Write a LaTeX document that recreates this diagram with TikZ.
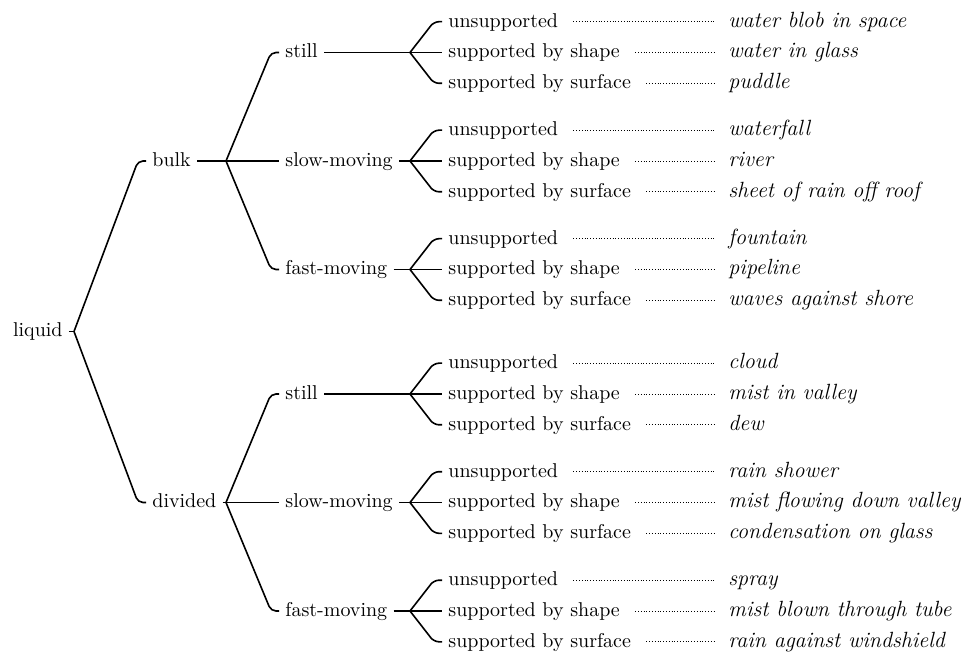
\documentclass[tikz,border=0pt]{standalone}
\begin{document}
\begin{tikzpicture}[x=0.5pt,y=-0.5pt,
	lbl/.style={anchor=west,inner sep=3pt,text height=1.5ex,text depth=.25ex},
	branch/.style={line width=0.8pt,rounded corners=2.5pt},
	leader/.style={densely dotted,line width=0.4pt,shorten <=4.5pt,shorten >=4pt}]
	\useasboundingbox (0,0) rectangle (970,652);
	\node (liquid)[lbl] at (6.7,331.5) {liquid};
	\coordinate (lf) at (74,331.5);
	\draw[branch] (liquid.east) -- (lf);
	\foreach \kind [count=\i from 0] in {bulk,divided}{
		\pgfmathsetmacro\ya{161+341.5*\i}
		\node (k\i)[lbl] at (146,\ya) {\kind};
		\coordinate (kf\i) at (226,\ya);
		\draw[branch] (lf) -- ([xshift=-4pt]k\i.west) -- (k\i.west);
		\draw[branch] (k\i.east) -- (kf\i);
		\foreach \speed [count=\j from 0] in {still,slow-moving,fast-moving}{
			\pgfmathsetmacro\yb{\ya+108.5*(\j-1)}
			\node (s\i\j)[lbl] at (279,\yb) {\speed};
			\coordinate (sf\i\j) at (410,\yb);
			\draw[branch] (kf\i) -- ([xshift=-4pt]s\i\j.west) -- (s\i\j.west);
			\draw[branch] (s\i\j.east) -- (sf\i\j);
			\foreach \support [count=\k from 0] in {unsupported,supported by shape,supported by surface}{
				\pgfmathsetmacro\yc{\yb+30.8*(\k-1)}
				\pgfmathtruncatemacro\n{9*\i+3*\j+\k}
				\node (leaf\n)[lbl] at (442,\yc) {\support};
				\draw[branch] (sf\i\j) -- ([xshift=-4pt]leaf\n.west) -- (leaf\n.west);
			}
		}
	}
	\foreach \ex [count=\n from 0] in {water blob in space,water in glass,puddle,waterfall,river,sheet of rain off roof,fountain,pipeline,waves against shore,cloud,mist in valley,dew,rain shower,mist flowing down valley,condensation on glass,spray,mist blown through tube,rain against windshield}{
		\node (ex\n)[lbl,font=\fontsize{11}{13}\selectfont\itshape] at (722,0 |- leaf\n.west) {\ex};
		\draw[leader] (leaf\n.east) -- (ex\n.west);
	}
\end{tikzpicture}
\end{document}
